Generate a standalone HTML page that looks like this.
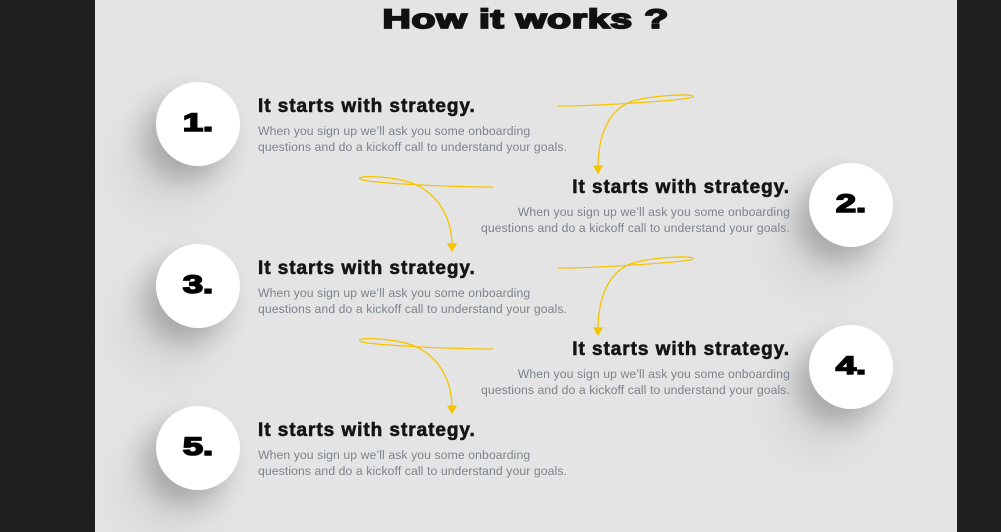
<!DOCTYPE html>
<html><head><meta charset="utf-8"><style>
body{margin:0;width:1001px;height:532px;background:#1e1e1e;overflow:hidden;position:relative;font-family:"Liberation Sans",sans-serif}
.panel{position:absolute;left:95px;top:0;width:862px;height:532px;background:#e4e4e4}
.title{position:absolute;left:50px;width:951px;top:4px;text-align:center;font-weight:900;font-size:27px;color:#111}
.title span{display:inline-block;transform:scaleX(1.45);-webkit-text-stroke:1.8px #111;letter-spacing:.5px}
.c{position:absolute;width:84px;height:84px;border-radius:50%;background:#fff;box-shadow:-12px 14px 26px rgba(0,0,0,.22),-30px 40px 50px rgba(0,0,0,.08)}
.c span{position:absolute;left:0;right:0;top:27px;text-align:center;font-size:25px;font-weight:900;color:#000;transform:scaleX(1.45);-webkit-text-stroke:1.6px #000}
.h{position:absolute;font-size:19px;font-weight:700;color:#151515;-webkit-text-stroke:.6px #151515;letter-spacing:.95px}
.p{position:absolute;font-size:12.2px;line-height:16px;color:#7b838c;letter-spacing:.1px}
.l{left:258px;text-align:left}.r{right:211px;text-align:right}
</style></head><body>
<div class="panel"></div>
<div class="title"><span>How it works ?</span></div>
<svg width="1001" height="532" style="position:absolute;left:0;top:0" fill="none" stroke="#f5c400" stroke-width="1.3">
<g id="a"><path d="M558,106 C600,106 688,100 693,97 C697,93 650,95 630,102 C606,112 598,140 598,168"/><path d="M594,166 L598,173 L602,166Z" fill="#f5c400"/></g>
<g id="b"><path d="M493,187 C450,187 365,183 360,179 C355,175 392,176 412,183 C440,194 452,220 452,246"/><path d="M448,244 L452,251 L456,244Z" fill="#f5c400"/></g>
<use href="#a" y="162"/><use href="#b" y="162"/>
</svg>
<div class="c" style="left:156px;top:82px"><span>1.</span></div>
<div class="c" style="left:809px;top:163px"><span>2.</span></div>
<div class="c" style="left:156px;top:244px"><span>3.</span></div>
<div class="c" style="left:809px;top:325px"><span>4.</span></div>
<div class="c" style="left:156px;top:406px"><span>5.</span></div>

<div class="h l" style="top:96px">It starts with strategy.</div>
<div class="p l" style="top:123px">When you sign up we’ll ask you some onboarding<br>questions and do a kickoff call to understand your goals.</div>
<div class="h r" style="top:177px">It starts with strategy.</div>
<div class="p r" style="top:204px">When you sign up we’ll ask you some onboarding<br>questions and do a kickoff call to understand your goals.</div>
<div class="h l" style="top:258px">It starts with strategy.</div>
<div class="p l" style="top:285px">When you sign up we’ll ask you some onboarding<br>questions and do a kickoff call to understand your goals.</div>
<div class="h r" style="top:339px">It starts with strategy.</div>
<div class="p r" style="top:366px">When you sign up we’ll ask you some onboarding<br>questions and do a kickoff call to understand your goals.</div>
<div class="h l" style="top:420px">It starts with strategy.</div>
<div class="p l" style="top:447px">When you sign up we’ll ask you some onboarding<br>questions and do a kickoff call to understand your goals.</div>
</body></html>
